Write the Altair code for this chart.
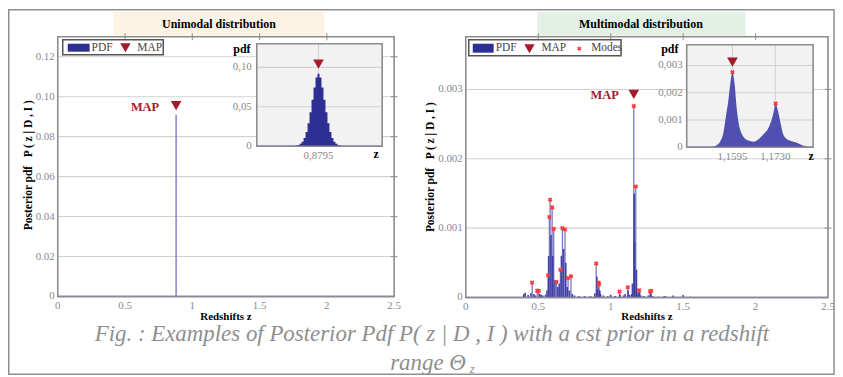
import altair as alt
import pandas as pd

W, H = 831, 368
SERIF = "Liberation Serif"

# ---------------- data ----------------
x_ticks = [0, 0.5, 1, 1.5, 2, 2.5]
x_top_ticks = [0.5, 1, 1.5, 2]
uni_y_ticks = [0, 0.02, 0.04, 0.06, 0.08, 0.10, 0.12]
multi_y_ticks = [0, 0.001, 0.002, 0.003]
uni_inset_x_ticks = [0.8795]
uni_inset_y_ticks = [0, 0.05, 0.10]
multi_inset_x_ticks = [1.1595, 1.1730]
multi_inset_y_ticks = [0, 0.001, 0.002, 0.003]

# Unimodal distribution
uni_map_z = 0.8795
uni_pdf_peak = 0.091
uni_map_marker = 0.0955
uni_inset_map_marker = 0.104
uni_inset_z = [0.8771, 0.8773, 0.8775, 0.8777, 0.8779, 0.8781, 0.8783, 0.8785, 0.8787,
               0.8789, 0.8791, 0.8793, 0.8795, 0.8797, 0.8799, 0.8801, 0.8803,
               0.8805, 0.8807, 0.8809, 0.8811, 0.8813, 0.8815, 0.8817, 0.8819]
uni_inset_pdf = [0.0004, 0.0008, 0.0016, 0.0030, 0.0058, 0.0105, 0.018, 0.029, 0.043,
                 0.059, 0.0745, 0.087, 0.092, 0.087, 0.0745, 0.059, 0.043,
                 0.029, 0.018, 0.0105, 0.0058, 0.0030, 0.0016, 0.0008, 0.0004]

# Multimodal distribution
multi_map_z = 1.1595
multi_map_marker = 0.00293
multi_inset_map_marker = 0.00312
multi_mode_z = [0.458, 0.493, 0.504, 0.568, 0.577, 0.582, 0.596, 0.607, 0.626,
                0.653, 0.667, 0.685, 0.706, 0.726, 0.900, 0.917, 0.920, 1.061,
                1.118, 1.1595, 1.1730, 1.196, 1.272, 1.279]
multi_mode_pdf = [0.000215, 0.000096, 0.000096, 0.00032, 0.00116, 0.00141, 0.0013,
                  0.00099, 0.000225, 0.0004, 0.001, 0.00098, 0.00028, 0.000306,
                  0.00049, 0.000215, 0.00019, 0.000086, 0.000148, 0.00276,
                  0.0016, 0.000105, 0.000086, 0.000096]
multi_minor_z = [0.40, 0.41, 0.43, 0.45, 0.47, 0.48, 0.51, 0.52, 0.53, 0.55, 0.56,
                 0.572, 0.588, 0.60, 0.615, 0.635, 0.645, 0.66, 0.675, 0.69, 0.70,
                 0.715, 0.735, 0.75, 0.78, 0.82, 0.86, 0.89, 0.905, 0.91, 0.925,
                 0.93, 0.95, 0.98, 1.00, 1.03, 1.065, 1.09, 1.10, 1.12, 1.13, 1.145,
                 1.15, 1.162, 1.165, 1.178, 1.18, 1.19, 1.20, 1.21, 1.23, 1.26,
                 1.275, 1.29, 1.33, 1.37, 1.38, 1.43, 1.50, 1.55]
multi_minor_pdf = [0.00005, 0.00007, 0.00004, 0.00006, 0.00005, 0.00003, 0.00005,
                   0.00004, 0.00003, 0.00004, 0.0001, 0.0006, 0.0009, 0.0006,
                   0.00025, 0.00015, 0.0002, 0.0006, 0.0007, 0.0005, 0.00015,
                   0.0001, 0.00005, 0.00003, 0.00002, 0.00002, 0.00002, 0.00006,
                   0.0003, 0.00012, 0.0001, 0.00005, 0.00003, 0.00002, 0.00004,
                   0.00002, 0.00004, 0.00003, 0.00005, 0.0001, 0.00004, 0.00005,
                   0.0002, 0.0015, 0.0008, 0.0004, 0.0001, 0.00006, 0.00008,
                   0.00003, 0.00002, 0.00003, 0.00006, 0.00002, 0.00001, 0.00002,
                   0.000015, 0.00003, 0.000035, 0.00001]
multi_inset_z = [1.1514, 1.1530, 1.1545, 1.1556, 1.1566, 1.1574, 1.1582, 1.1589,
                 1.1595, 1.1602, 1.1608, 1.1615, 1.1624, 1.1634, 1.1650, 1.1663,
                 1.1676, 1.1692, 1.1707, 1.1718, 1.1725, 1.1731, 1.1738, 1.1746,
                 1.1754, 1.1764, 1.1779, 1.1794, 1.1815, 1.1836, 1.1847]
multi_inset_pdf = [0, 0.00001, 0.00007, 0.0002, 0.0005, 0.0011, 0.0017, 0.0024,
                   0.00275, 0.0023, 0.00147, 0.00086, 0.0005, 0.00032, 0.00023,
                   0.0002, 0.00028, 0.00047, 0.00068, 0.00099, 0.0013, 0.0016,
                   0.00135, 0.00092, 0.0005, 0.00032, 0.00023, 0.00018, 0.00007,
                   0.00001, 0]
multi_inset_mode_z = [1.1595, 1.1731]
multi_inset_mode_pdf = [0.00275, 0.0016]

# ---------------- styles ----------------
FRAME = "#8c8c8c"
GRID = "#d2d2d2"
LABEL = "#8a8a8a"
PDF_DARK = "#2d2f92"
PDF_MID = "#3a3aa2"
PDF_LIGHT = "#7070c0"
MAP_RED = "#a31b2b"
MODE_RED = "#ff3a3a"

one = pd.DataFrame({"k": [0]})


def fmt(decimals, comma=False):
    body = f"format(datum.t, '.{decimals}f')"
    if comma:
        body = f"replace({body}, '.', ',')"
    return f"datum.t == 0 ? '0' : {body}"


def tick_labels(xs, ys, xd, yd, xt, yt, xfmt, yfmt, xpad, ypad):
    xl = alt.Chart(pd.DataFrame({"t": xt})).mark_text(
        font=SERIF, fontSize=11, color=LABEL, baseline="top", dy=xpad
    ).transform_calculate(lab=xfmt, yy=str(yd[0])).encode(
        x=alt.X("t:Q", scale=xs, axis=None),
        y=alt.Y("yy:Q", scale=ys, axis=None), text="lab:N")
    yl = alt.Chart(pd.DataFrame({"t": yt})).mark_text(
        font=SERIF, fontSize=11, color=LABEL, align="right", baseline="middle", dx=-ypad
    ).transform_calculate(lab=yfmt, xx=str(xd[0])).encode(
        x=alt.X("xx:Q", scale=xs, axis=None),
        y=alt.Y("t:Q", scale=ys, axis=None), text="lab:N")
    return [xl, yl]


def subplot(xd, yd, xr, yr, xt, yt, xfmt, yfmt, bg, xpad, ypad, extra):
    xs = alt.Scale(domain=xd, range=xr, nice=False, zero=False)
    ys = alt.Scale(domain=yd, range=yr, nice=False, zero=False)
    frame_df = pd.DataFrame({"x0": [xd[0]], "x1": [xd[1]], "y0": [yd[0]], "y1": [yd[1]]})
    frame_bg = alt.Chart(frame_df).mark_rect(fill=bg, strokeWidth=0).encode(
        x=alt.X("x0:Q", scale=xs, axis=None), x2="x1:Q",
        y=alt.Y("y0:Q", scale=ys, axis=None), y2="y1:Q")
    frame_line = alt.Chart(frame_df).mark_rect(
        fill="white", fillOpacity=0, stroke=FRAME, strokeWidth=1.6).encode(
        x=alt.X("x0:Q", scale=xs, axis=None), x2="x1:Q",
        y=alt.Y("y0:Q", scale=ys, axis=None), y2="y1:Q")
    hg = pd.DataFrame({"y": [v for v in yt if v != 0]})
    hgrid = alt.Chart(hg).mark_rule(color=GRID, strokeWidth=1.1).transform_calculate(
        xa=str(xd[0]), xb=str(xd[1])).encode(
        x=alt.X("xa:Q", scale=xs, axis=None), x2="xb:Q",
        y=alt.Y("y:Q", scale=ys, axis=None))
    layers = [frame_bg, hgrid]
    layers += extra(xs, ys)
    layers.append(frame_line)
    layers += tick_labels(xs, ys, xd, yd, xt, yt, xfmt, yfmt, xpad, ypad)
    return alt.layer(*layers)


def spikes(z, v, xs, ys, color, width, opacity=1.0):
    df = pd.DataFrame({"z": z, "v": v})
    return alt.Chart(df).mark_rule(color=color, strokeWidth=width, opacity=opacity).transform_calculate(
        base="0").encode(
        x=alt.X("z:Q", scale=xs, axis=None),
        y=alt.Y("v:Q", scale=ys, axis=None), y2="base:Q")


def marker(z, v, xs, ys, size=115):
    df = pd.DataFrame({"z": z, "v": v})
    return alt.Chart(df).mark_point(shape="triangle-down", filled=True, size=size,
                                    color=MAP_RED, opacity=1).encode(
        x=alt.X("z:Q", scale=xs, axis=None), y=alt.Y("v:Q", scale=ys, axis=None))


def modes(z, v, xs, ys):
    df = pd.DataFrame({"z": z, "v": v})
    return alt.Chart(df).mark_point(shape="cross", angle=45, filled=True, size=22,
                                    color=MODE_RED, opacity=1).encode(
        x=alt.X("z:Q", scale=xs, axis=None), y=alt.Y("v:Q", scale=ys, axis=None))


def baseline(xd, xs, ys, color):
    return alt.Chart(one).mark_rule(color=color, strokeWidth=1.5).transform_calculate(
        xa=str(xd[0]), xb=str(xd[1]), y="0").encode(
        x=alt.X("xa:Q", scale=xs, axis=None), x2="xb:Q",
        y=alt.Y("y:Q", scale=ys, axis=None))


def edge_ticks(xt, ytop, xs, ys):
    df = pd.DataFrame({"x": xt, "y": [ytop] * len(xt)})
    return alt.Chart(df).mark_tick(orient="vertical", size=7, thickness=1.2, color="#777").encode(
        x=alt.X("x:Q", scale=xs, axis=None), y=alt.Y("y:Q", scale=ys, axis=None))


def right_ticks(yt, xright, xs, ys):
    df = pd.DataFrame({"x": [xright] * len(yt), "y": yt})
    return alt.Chart(df).mark_tick(orient="horizontal", size=7, thickness=1.2, color="#777").encode(
        x=alt.X("x:Q", scale=xs, axis=None), y=alt.Y("y:Q", scale=ys, axis=None))


def map_label(z, v, xs, ys, dx):
    df = pd.DataFrame({"z": [z], "v": [v]})
    return alt.Chart(df).mark_text(text="MAP", font=SERIF, fontSize=12.5, fontWeight="bold",
                                   color=MAP_RED, align="right", baseline="middle", dx=dx, dy=1).encode(
        x=alt.X("z:Q", scale=xs, axis=None), y=alt.Y("v:Q", scale=ys, axis=None))


MAIN_XFMT = "format(datum.t, '~g')"

# ---- Unimodal main ----
UM_XD, UM_YD = [0, 2.5], [0, 0.13]


def uni_main_extra(xs, ys):
    return [
        edge_ticks(x_top_ticks, UM_YD[1], xs, ys),
        right_ticks([v for v in uni_y_ticks if v != 0], UM_XD[1], xs, ys),
        baseline(UM_XD, xs, ys, "#6464bb"),
        spikes([uni_map_z], [uni_pdf_peak], xs, ys, PDF_LIGHT, 1.3),
        marker([uni_map_z], [uni_map_marker], xs, ys),
        map_label(uni_map_z, uni_map_marker, xs, ys, -17),
    ]


uni_main = subplot(UM_XD, UM_YD, [50, 388], [289, 28], x_ticks, uni_y_ticks,
                   MAIN_XFMT, fmt(2), "white", 4, 3, uni_main_extra)

# ---- Multimodal main ----
MM_XD, MM_YD = [0, 2.5], [0, 0.00376]


def multi_main_extra(xs, ys):
    return [
        edge_ticks(x_top_ticks, MM_YD[1], xs, ys),
        right_ticks([v for v in multi_y_ticks if v != 0], MM_XD[1], xs, ys),
        baseline(MM_XD, xs, ys, "#6464bb"),
        spikes(multi_mode_z, multi_mode_pdf, xs, ys, PDF_LIGHT, 1.3, 0.95),
        spikes(multi_minor_z, multi_minor_pdf, xs, ys, PDF_MID, 1.6, 0.95),
        modes(multi_mode_z, multi_mode_pdf, xs, ys),
        marker([multi_map_z], [multi_map_marker], xs, ys),
        map_label(multi_map_z, multi_map_marker, xs, ys, -15),
    ]


multi_main = subplot(MM_XD, MM_YD, [460, 824], [290, 28], x_ticks, multi_y_ticks,
                     MAIN_XFMT, fmt(3), "white", 4, 3, multi_main_extra)

# ---- Unimodal inset ----
UI_XD, UI_YD = [0.8733, 0.8859], [0, 0.13]


def uni_inset_extra(xs, ys):
    vg = pd.DataFrame({"x": uni_inset_x_ticks})
    vgrid = alt.Chart(vg).mark_rule(color=GRID, strokeWidth=1.1).transform_calculate(
        ya="0", yb=str(UI_YD[1])).encode(
        x=alt.X("x:Q", scale=xs, axis=None),
        y=alt.Y("ya:Q", scale=ys, axis=None), y2="yb:Q")
    df = pd.DataFrame({"z": uni_inset_z, "v": uni_inset_pdf})
    area = alt.Chart(df).mark_area(color=PDF_DARK, interpolate="step", opacity=1).transform_calculate(
        base="0").encode(
        x=alt.X("z:Q", scale=xs, axis=None),
        y=alt.Y("v:Q", scale=ys, axis=None), y2="base:Q")
    return [vgrid, baseline(UI_XD, xs, ys, "#6464bb"), area,
            marker([uni_map_z], [uni_inset_map_marker], xs, ys)]


uni_inset = subplot(UI_XD, UI_YD, [250, 376], [138, 35], uni_inset_x_ticks, uni_inset_y_ticks,
                    fmt(4, True), fmt(2, True), "#f2f2f2", 4, 5, uni_inset_extra)

# ---- Multimodal inset ----
MI_XD, MI_YD = [1.1451, 1.1849], [0, 0.00376]


def multi_inset_extra(xs, ys):
    vg = pd.DataFrame({"x": multi_inset_x_ticks})
    vgrid = alt.Chart(vg).mark_rule(color=GRID, strokeWidth=1.1).transform_calculate(
        ya="0", yb=str(MI_YD[1])).encode(
        x=alt.X("x:Q", scale=xs, axis=None),
        y=alt.Y("ya:Q", scale=ys, axis=None), y2="yb:Q")
    df = pd.DataFrame({"z": multi_inset_z, "v": multi_inset_pdf})
    area = alt.Chart(df).mark_area(color="#5050b0", opacity=1, interpolate="monotone").transform_calculate(
        base="0").encode(
        x=alt.X("z:Q", scale=xs, axis=None),
        y=alt.Y("v:Q", scale=ys, axis=None), y2="base:Q")
    return [vgrid, baseline(MI_XD, xs, ys, "#6464bb"), area,
            modes(multi_inset_mode_z, multi_inset_mode_pdf, xs, ys),
            marker([multi_map_z], [multi_inset_map_marker], xs, ys)]


multi_inset = subplot(MI_XD, MI_YD, [682, 809], [139, 36], multi_inset_x_ticks, multi_inset_y_ticks,
                      fmt(4, True), fmt(3, True), "#f2f2f2", 4, 4, multi_inset_extra)


# ---------------- decorations ----------------
def txt(s, x, y, size=11, weight="normal", color="black", align="center",
        baseline="middle", angle=0, style="normal"):
    return alt.Chart(one).mark_text(text=s, font=SERIF, fontSize=size, fontWeight=weight,
                                    color=color, align=align, baseline=baseline,
                                    angle=angle, fontStyle=style).encode(
        x=alt.value(x), y=alt.value(y))


def box(x0, x1, y0, y1, fill, stroke="white", sw=0.0, fo=1.0):
    return alt.Chart(one).mark_rect(fill=fill, fillOpacity=fo, stroke=stroke, strokeWidth=sw).encode(
        x=alt.value(x0), x2=alt.value(x1), y=alt.value(y0), y2=alt.value(y1))


def sym(x, y, shape, color, size, angle=0):
    return alt.Chart(one).mark_point(shape=shape, filled=True, color=color, size=size,
                                     angle=angle, opacity=1).encode(
        x=alt.value(x), y=alt.value(y))


back = [
    box(106, 318, 3, 27, "#fdf3e5"),
    box(532, 741, 3, 27, "#e3f0e5"),
    txt("Unimodal distribution", 212, 15, 12, "bold"),
    txt("Multimodal distribution", 636, 15, 12, "bold"),
    txt("Posterior pdf\u00a0\u00a0\u00a0P ( z | D , I )", 21, 157, 11.5, "bold", angle=270),
    txt("Posterior pdf\u00a0\u00a0\u00a0P ( z | D , I )", 425, 159, 11.5, "bold", angle=270),
    txt("Redshifts z", 219, 310, 11, "bold"),
    txt("Redshifts z", 642, 310, 11, "bold"),
]

front = [
    # inset axis labels
    txt("pdf", 235, 40, 12, "bold"),
    txt("z", 370, 146, 12, "bold"),
    txt("pdf", 665, 40, 12, "bold"),
    txt("z", 807, 148, 12, "bold"),
    # legend (unimodal)
    box(55, 156, 31, 46, "white", "#555555", 1.5),
    box(60, 82, 35, 43, PDF_DARK),
    txt("PDF", 84, 39, 11.5, color="#444444", align="left"),
    sym(118, 39, "triangle-down", MAP_RED, 110),
    txt("MAP", 130, 39, 11.5, color="#444444", align="left"),
    # legend (multimodal)
    box(463, 616, 31, 47, "white", "#555555", 1.5),
    box(467, 488, 35, 44, PDF_DARK),
    txt("PDF", 490, 39.5, 11.5, color="#444444", align="left"),
    sym(524, 40, "triangle-down", MAP_RED, 110),
    txt("MAP", 536, 39.5, 11.5, color="#444444", align="left"),
    sym(574, 40, "cross", MODE_RED, 18, 45),
    txt("Modes", 586, 39.5, 11.5, color="#444444", align="left"),
    # caption
    txt("Fig. : Examples of Posterior Pdf P( z | D , I ) with a cst prior in a redshift",
        426, 334, 23, color="#8e8e8e", baseline="alphabetic", style="italic"),
    txt("range \u0398", 422, 363, 23, color="#8e8e8e", baseline="alphabetic", style="italic"),
    txt("z", 464, 366, 13, color="#8e8e8e", align="left", baseline="alphabetic", style="italic"),
    # outer border
    box(0.75, 830, 0.75, 367.25, "white", "#8f8f8f", 1.5, 0.0),
]

chart = alt.layer(
    *back, uni_main, multi_main, uni_inset, multi_inset, *front
).resolve_scale(
    x="independent", y="independent"
).properties(
    width=W, height=H, padding=0,
    autosize=alt.AutoSizeParams(type="none"),
).configure_view(stroke=None)

chart.save("out.html", embed_options={"renderer": "svg", "actions": False})
